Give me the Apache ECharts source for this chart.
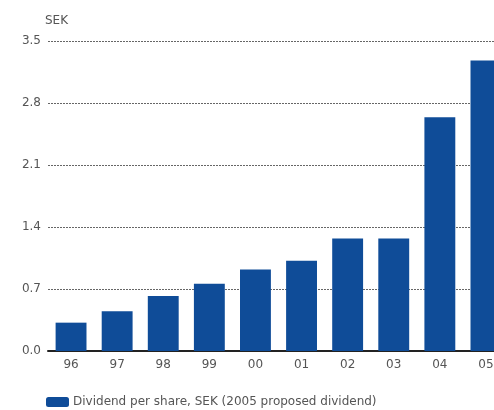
<!DOCTYPE html>
<html>
<head>
<meta charset="utf-8">
<script src="https://cdn.jsdelivr.net/npm/echarts@6/dist/echarts.min.js"></script>
<style>
  html, body { margin: 0; padding: 0; background: #fff; }
  #chart { width: 494px; height: 410px; }
</style>
</head>
<body>
<div id="chart"></div>
<script>
// years shown on the x axis
const years = ["96", "97", "98", "99", "00", "01", "02", "03", "04", "05"];
// dividend per share, SEK
const dividend = [0.32, 0.45, 0.62, 0.76, 0.92, 1.02, 1.27, 1.27, 2.64, 3.28];
const yTicks = { min: 0, max: 3.5, step: 0.7 };
const legendName = "Dividend per share, SEK (2005 proposed dividend)";

const chart = echarts.init(document.getElementById("chart"));
chart.setOption({
  animation: false,
  textStyle: { fontFamily: "DejaVu Sans, Verdana, sans-serif" },
  // the last bar runs off the right edge in the original, so the grid does too
  grid: { left: 48, top: 41, bottom: 59, width: 461, outerBoundsMode: "none" },
  legend: {
    left: 41,
    top: 391,
    itemWidth: 23,
    itemHeight: 10,
    textStyle: { fontSize: 12, color: "#555", padding: [0, 0, 0, -1] },
    data: [legendName]
  },
  xAxis: {
    type: "category",
    data: years,
    axisTick: { show: false },
    axisLine: { lineStyle: { color: "#222", width: 2 } },
    axisLabel: { color: "#555", fontSize: 12, margin: 8 }
  },
  yAxis: {
    type: "value",
    min: yTicks.min,
    max: yTicks.max,
    interval: yTicks.step,
    name: "SEK",
    nameLocation: "end",
    nameGap: 14,
    nameTextStyle: { color: "#555", fontSize: 12, align: "left", padding: [0, 0, 0, -3] },
    axisLine: { show: false },
    axisTick: { show: false },
    axisLabel: {
      color: "#555",
      fontSize: 12,
      margin: 7,
      formatter: v => v.toFixed(1)
    },
    splitLine: { lineStyle: { color: "#666", type: [2, 1], width: 1 } }
  },
  series: [
    {
      name: legendName,
      type: "bar",
      data: dividend,
      barCategoryGap: "33%",
      itemStyle: { color: "#0f4c98" }
    }
  ]
});
</script>
</body>
</html>
